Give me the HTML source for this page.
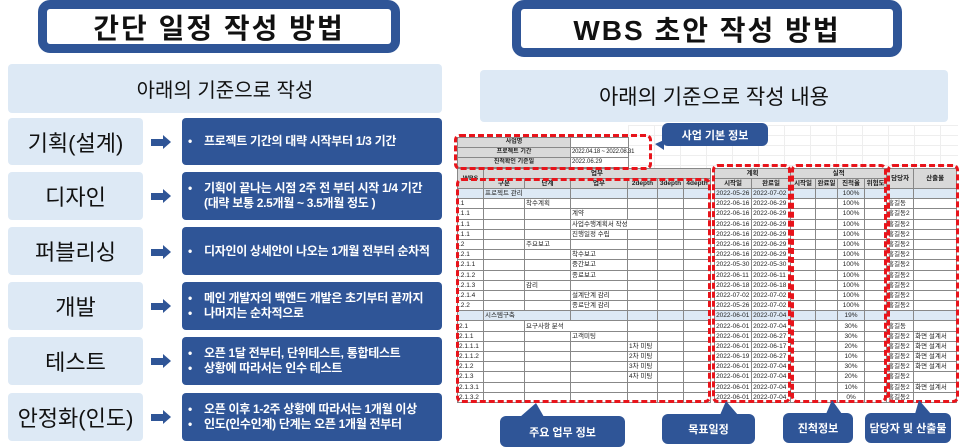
<!DOCTYPE html>
<html><head><meta charset="utf-8"><style>
*{margin:0;padding:0;box-sizing:border-box}
body{width:960px;height:447px;background:#fff;position:relative;overflow:hidden;font-family:"Liberation Sans","Noto Sans CJK KR",sans-serif}
.a{position:absolute}
.title{position:absolute;border:9px solid #2f5597;border-radius:12px;background:#fff;display:flex;align-items:center;justify-content:center;font-weight:bold;font-size:28px;color:#111;letter-spacing:2px}
.lb{position:absolute;background:#dde9f5;border-radius:4px;display:flex;align-items:center;justify-content:center;color:#111}
.bb{position:absolute;left:182px;width:260px;background:#2f5597;border-radius:4px;color:#fff;font-size:12px;letter-spacing:-0.3px;font-weight:bold;display:flex;flex-direction:column;justify-content:center;padding-left:22px;line-height:17px;white-space:nowrap}
.bb div{position:relative}
.bb div:before{content:"•";position:absolute;left:-16px}
.arr{position:absolute;left:151px;width:12px;height:7px;background:#2f5597}
.arr:after{content:"";position:absolute;left:12px;top:-4px;border-left:8px solid #2f5597;border-top:7.5px solid transparent;border-bottom:7.5px solid transparent}
.co{position:absolute;background:#2f5597;border-radius:6px;color:#fff;font-size:11px;font-weight:bold;display:flex;align-items:center;justify-content:center}
table{position:absolute;border-collapse:collapse;table-layout:fixed;font-size:6.5px;color:#222}
td{border:0.6px solid #888;height:10.2px;padding:0 1px;white-space:nowrap;overflow:hidden;line-height:9px}
.h td{background:#d9d9d9;text-align:center;font-weight:bold;height:10px}
.bl td{background:#dde9f5}
.c{text-align:center}
.r{text-align:right}
.red{position:absolute;border:3px dashed #e8141b;border-radius:6px}
</style></head><body>

<div class="title" style="left:38px;top:0;width:362px;height:53px">간단 일정 작성 방법</div>
<div class="lb" style="left:8px;top:64px;width:434px;height:49px;font-size:20px">아래의 기준으로 작성</div>

<div class="lb" style="left:8px;top:118px;width:135px;height:47px;font-size:22px">기획(설계)</div>
<div class="arr" style="top:139px"></div>
<div class="bb" style="top:118px;height:47px"><div>프로젝트 기간의 대략 시작부터 1/3 기간</div></div>

<div class="lb" style="left:8px;top:172px;width:135px;height:48px;font-size:22px">디자인</div>
<div class="arr" style="top:193px"></div>
<div class="bb" style="top:172px;height:48px;line-height:15px"><div>기획이 끝나는 시점 2주 전 부터 시작 1/4 기간<br>(대략 보통 2.5개월 ~ 3.5개월 정도 )</div></div>

<div class="lb" style="left:8px;top:227px;width:135px;height:48px;font-size:22px">퍼블리싱</div>
<div class="arr" style="top:249px"></div>
<div class="bb" style="top:227px;height:48px"><div>디자인이 상세안이 나오는 1개월 전부터 순차적</div></div>

<div class="lb" style="left:8px;top:282px;width:135px;height:48px;font-size:22px">개발</div>
<div class="arr" style="top:303px"></div>
<div class="bb" style="top:282px;height:48px;line-height:15px"><div>메인 개발자의 백앤드 개발은 초기부터 끝까지</div><div>나머지는 순차적으로</div></div>

<div class="lb" style="left:8px;top:337px;width:135px;height:48px;font-size:22px">테스트</div>
<div class="arr" style="top:358px"></div>
<div class="bb" style="top:337px;height:48px;line-height:15px"><div>오픈 1달 전부터, 단위테스트, 통합테스트</div><div>상황에 따라서는 인수 테스트</div></div>

<div class="lb" style="left:8px;top:393px;width:135px;height:48px;font-size:22px">안정화(인도)</div>
<div class="arr" style="top:414px"></div>
<div class="bb" style="top:393px;height:48px;line-height:15px"><div>오픈 이후 1-2주 상황에 따라서는 1개월 이상</div><div>인도(인수인계) 단계는 오픈 1개월 전부터</div></div>

<div class="title" style="left:512px;top:0;width:390px;height:57px">WBS 초안 작성 방법</div>
<div class="lb" style="left:480px;top:70px;width:468px;height:52px;font-size:21px">아래의 기준으로 작성 내용</div>

<div class="a" style="left:628px;top:125px;width:330px;height:43px;background-image:linear-gradient(#eee 1px,transparent 1px),linear-gradient(90deg,#eee 1px,transparent 1px);background-size:26px 10px"></div>

<div class="co" style="left:662px;top:123px;width:106px;height:23px">사업 기본 정보</div>
<div class="a" style="left:655px;top:140px;border-right:9px solid #2f5597;border-top:4px solid transparent;border-bottom:6px solid transparent"></div>

<table style="left:457px;top:137px;width:171px;font-size:6px">
<colgroup><col style="width:113px"><col style="width:58px"></colgroup>
<tr><td class="c" style="background:#d9d9d9;font-weight:bold;height:10px">사업명</td><td style="height:10px"></td></tr>
<tr><td class="c" style="background:#d9d9d9;font-weight:bold;height:10px">프로젝트 기간</td><td style="height:10px;overflow:visible;letter-spacing:-0.2px">2022.04.18 ~ 2022.08.31</td></tr>
<tr><td class="c" style="background:#d9d9d9;font-weight:bold;height:10px">진척확인 기준일</td><td style="height:10px">2022.06.29</td></tr>
</table>

<table style="left:457px;top:168px;width:500px">
<colgroup>
<col style="width:26px"><col style="width:41px"><col style="width:46px"><col style="width:57px"><col style="width:30px"><col style="width:26px"><col style="width:27px"><col style="width:4px">
<col style="width:37px"><col style="width:39px"><col style="width:25px"><col style="width:22px"><col style="width:27px"><col style="width:22px"><col style="width:27px"><col style="width:43px">
</colgroup>
<tr class="h"><td rowspan="2">WBS</td><td colspan="6">업무</td><td style="background:#fff;border:none"></td><td colspan="2">계획</td><td colspan="4">실적</td><td rowspan="2">담당자</td><td rowspan="2">산출물</td></tr>
<tr class="h"><td>구분</td><td>단계</td><td>업무</td><td>2depth</td><td>3depth</td><td>4depth</td><td style="background:#fff;border:none"></td><td>시작일</td><td>완료일</td><td>시작일</td><td>완료일</td><td>진척율</td><td>위험도</td></tr>
<tr class="bl"><td></td><td colspan="2">프로젝트 관리</td><td></td><td></td><td></td><td></td><td style="background:#fff;border:none"></td><td>2022-05-26</td><td>2022-07-02</td><td></td><td></td><td class="c">100%</td><td></td><td></td><td></td></tr>
<tr><td>.1</td><td></td><td>착수계획</td><td></td><td></td><td></td><td></td><td style="border:none"></td><td>2022-06-16</td><td>2022-06-29</td><td></td><td></td><td class="c">100%</td><td></td><td>홍길동</td><td></td></tr>
<tr><td>.1.1</td><td></td><td></td><td>계약</td><td></td><td></td><td></td><td style="border:none"></td><td>2022-06-16</td><td>2022-06-29</td><td></td><td></td><td class="c">100%</td><td></td><td>홍길동2</td><td></td></tr>
<tr><td>.1.1</td><td></td><td></td><td colspan="2">사업수행계획서 작성</td><td></td><td></td><td style="border:none"></td><td>2022-06-16</td><td>2022-06-29</td><td></td><td></td><td class="c">100%</td><td></td><td>홍길동2</td><td></td></tr>
<tr><td>.1.1</td><td></td><td></td><td>진행일정 수립</td><td></td><td></td><td></td><td style="border:none"></td><td>2022-06-16</td><td>2022-06-29</td><td></td><td></td><td class="c">100%</td><td></td><td>홍길동2</td><td></td></tr>
<tr><td>.2</td><td></td><td>주요보고</td><td></td><td></td><td></td><td></td><td style="border:none"></td><td>2022-06-16</td><td>2022-06-29</td><td></td><td></td><td class="c">100%</td><td></td><td>홍길동2</td><td></td></tr>
<tr><td>.2.1</td><td></td><td></td><td>착수보고</td><td></td><td></td><td></td><td style="border:none"></td><td>2022-06-16</td><td>2022-06-29</td><td></td><td></td><td class="c">100%</td><td></td><td>홍길동2</td><td></td></tr>
<tr><td>.2.1.1</td><td></td><td></td><td>중간보고</td><td></td><td></td><td></td><td style="border:none"></td><td>2022-05-30</td><td>2022-05-30</td><td></td><td></td><td class="c">100%</td><td></td><td>홍길동2</td><td></td></tr>
<tr><td>.2.1.2</td><td></td><td></td><td>종료보고</td><td></td><td></td><td></td><td style="border:none"></td><td>2022-06-11</td><td>2022-06-11</td><td></td><td></td><td class="c">100%</td><td></td><td>홍길동2</td><td></td></tr>
<tr><td>.2.1.3</td><td></td><td>감리</td><td></td><td></td><td></td><td></td><td style="border:none"></td><td>2022-06-18</td><td>2022-06-18</td><td></td><td></td><td class="c">100%</td><td></td><td>홍길동2</td><td></td></tr>
<tr><td>.2.1.4</td><td></td><td></td><td>설계단계 감리</td><td></td><td></td><td></td><td style="border:none"></td><td>2022-07-02</td><td>2022-07-02</td><td></td><td></td><td class="c">100%</td><td></td><td>홍길동2</td><td></td></tr>
<tr><td>.2.2</td><td></td><td></td><td>종료단계 감리</td><td></td><td></td><td></td><td style="border:none"></td><td>2022-05-26</td><td>2022-07-02</td><td></td><td></td><td class="c">100%</td><td></td><td>홍길동2</td><td></td></tr>
<tr class="bl"><td></td><td colspan="2">시스템구축</td><td></td><td></td><td></td><td></td><td style="background:#fff;border:none"></td><td>2022-06-01</td><td>2022-07-04</td><td></td><td></td><td class="c">19%</td><td></td><td></td><td></td></tr>
<tr><td>2.1</td><td></td><td colspan="2">요구사항 분석</td><td></td><td></td><td></td><td style="border:none"></td><td>2022-06-01</td><td>2022-07-04</td><td></td><td></td><td class="c">30%</td><td></td><td>홍길동</td><td></td></tr>
<tr><td>2.1.1</td><td></td><td></td><td>고객미팅</td><td></td><td></td><td></td><td style="border:none"></td><td>2022-06-01</td><td>2022-06-27</td><td></td><td></td><td class="c">30%</td><td></td><td>홍길동2</td><td>화면 설계서</td></tr>
<tr><td>2.1.1.1</td><td></td><td></td><td></td><td>1차 미팅</td><td></td><td></td><td style="border:none"></td><td>2022-06-01</td><td>2022-06-17</td><td></td><td></td><td class="c">20%</td><td></td><td>홍길동2</td><td>화면 설계서</td></tr>
<tr><td>2.1.1.2</td><td></td><td></td><td></td><td>2차 미팅</td><td></td><td></td><td style="border:none"></td><td>2022-06-19</td><td>2022-06-27</td><td></td><td></td><td class="c">10%</td><td></td><td>홍길동2</td><td>화면 설계서</td></tr>
<tr><td>2.1.2</td><td></td><td></td><td></td><td>3차 미팅</td><td></td><td></td><td style="border:none"></td><td>2022-06-01</td><td>2022-07-04</td><td></td><td></td><td class="c">30%</td><td></td><td>홍길동2</td><td>화면 설계서</td></tr>
<tr><td>2.1.3</td><td></td><td></td><td></td><td>4차 미팅</td><td></td><td></td><td style="border:none"></td><td>2022-06-01</td><td>2022-07-04</td><td></td><td></td><td class="c">20%</td><td></td><td>홍길동2</td><td></td></tr>
<tr><td>2.1.3.1</td><td></td><td></td><td></td><td></td><td></td><td></td><td style="border:none"></td><td>2022-06-01</td><td>2022-07-04</td><td></td><td></td><td class="c">10%</td><td></td><td>홍길동2</td><td>화면 설계서</td></tr>
<tr><td>2.1.3.2</td><td></td><td></td><td></td><td></td><td></td><td></td><td style="border:none"></td><td>2022-06-01</td><td>2022-07-04</td><td></td><td></td><td class="c">0%</td><td></td><td>홍길동2</td><td></td></tr>
</table>

<div class="red" style="left:454px;top:134px;width:198px;height:36px"></div>
<div class="red" style="left:456px;top:178px;width:255px;height:225px"></div>
<div class="red" style="left:712px;top:164px;width:79px;height:239px"></div>
<div class="red" style="left:791px;top:164px;width:96px;height:239px"></div>
<div class="red" style="left:887px;top:164px;width:72px;height:239px"></div>

<div class="a" style="left:520px;top:403px;border-left:16px solid transparent;border-bottom:14px solid #2f5597;border-right:8px solid transparent"></div>
<div class="co" style="left:500px;top:416px;width:125px;height:31px">주요 업무 정보</div>
<div class="a" style="left:720px;top:401px;border-left:6px solid transparent;border-bottom:14px solid #2f5597;border-right:12px solid transparent"></div>
<div class="co" style="left:662px;top:414px;width:93px;height:30px">목표일정</div>
<div class="a" style="left:826px;top:400px;border-left:6px solid transparent;border-bottom:14px solid #2f5597;border-right:10px solid transparent"></div>
<div class="co" style="left:783px;top:413px;width:70px;height:30px">진척정보</div>
<div class="a" style="left:915px;top:400px;border-left:4px solid transparent;border-bottom:14px solid #2f5597;border-right:12px solid transparent"></div>
<div class="co" style="left:865px;top:413px;width:86px;height:30px">담당자 및 산출물</div>

</body></html>
